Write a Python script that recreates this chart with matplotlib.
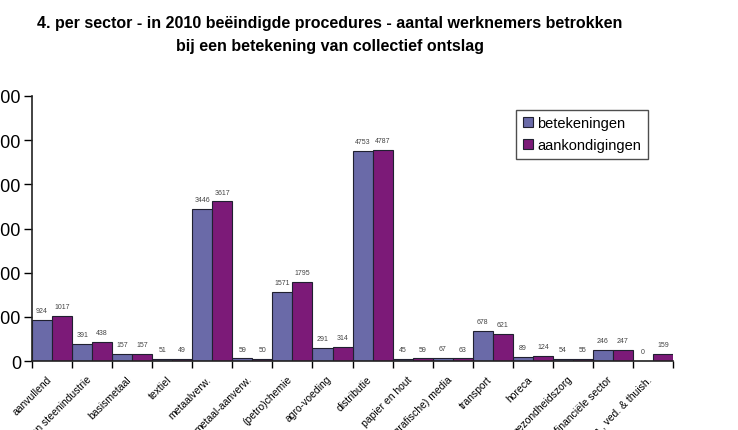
import matplotlib
matplotlib.use("Agg")
import matplotlib.pyplot as plt
import matplotlib.transforms as mtransforms
import numpy as np

plt.rcParams['font.family'] = ['Liberation Sans', 'DejaVu Sans']

categories = ["aanvullend", "glas- en steenindustrie", "basismetaal", "textiel",
              "metaalverw.", "metaal-aanverw.", "(petro)chemie", "agro-voeding",
              "distributie", "papier en hout", "(grafische) media", "transport",
              "horeca", "gezondheidszorg", "financiële sector", "schoonm., ved. & thuish."]
betekeningen = [924, 391, 157, 51, 3446, 59, 1571, 291, 4753, 45, 67, 678, 89, 54, 246, 0]
aankondigingen = [1017, 438, 157, 49, 3617, 50, 1795, 314, 4787, 59, 63, 621, 124, 55, 247, 159]
yticks = [0, 1000, 2000, 3000, 4000, 5000, 6000]
title = ("4. per sector - in 2010 beëindigde procedures - aantal werknemers betrokken\n"
         "bij een betekening van collectief ontslag")

c_blue = '#6a6aa8'
c_purple = '#7c1a78'

fig = plt.figure(figsize=(7.38, 4.31), dpi=100)
ax = fig.add_axes([0.0434, 0.160, 0.8686, 0.615])

x = np.arange(len(categories))
w = 0.5
b1 = ax.bar(x - w/2, betekeningen, w, color=c_blue, edgecolor='#202030', linewidth=0.8, label='betekeningen')
b2 = ax.bar(x + w/2, aankondigingen, w, color=c_purple, edgecolor='#202030', linewidth=0.8, label='aankondigingen')

for bars, vals in ((b1, betekeningen), (b2, aankondigingen)):
    for r, v in zip(bars, vals):
        ax.text(r.get_x() + r.get_width()/2, v + 130, str(v), ha='center', va='bottom',
                fontsize=5, color='#444444')

ax.set_xlim(-0.5, len(categories) - 0.5)
ax.set_ylim(0, 6000)
ax.set_yticks(yticks)
ax.set_yticklabels([str(t) for t in yticks], fontsize=13)
ax.tick_params(axis='y', length=6, width=1, pad=2)

ax.set_xticks(x)
ax.set_xticklabels(categories, rotation=45, ha='right', rotation_mode='anchor', fontsize=7.5)
ax.tick_params(axis='x', which='major', length=0, pad=9)
offset = mtransforms.ScaledTranslation(-6/100, 0, fig.dpi_scale_trans)
for lab in ax.get_xticklabels():
    lab.set_transform(lab.get_transform() + offset)
ax.set_xticks(np.arange(-0.5, len(categories)), minor=True)
ax.tick_params(axis='x', which='minor', length=5, width=1)

for s in ('top', 'right'):
    ax.spines[s].set_visible(False)
for s in ('left', 'bottom'):
    ax.spines[s].set_linewidth(1.2)
    ax.spines[s].set_color('#222222')

leg = ax.legend(loc='upper left', bbox_to_anchor=(0.744, 0.975), fontsize=10.5,
                frameon=True, fancybox=False, edgecolor='#222222', handlelength=0.7,
                handleheight=0.7, handletextpad=0.3, borderpad=0.45, labelspacing=0.55)
leg.get_frame().set_linewidth(1.0)

fig.text(0.447, 0.962, title, ha='center', va='top', fontsize=11.5, fontweight='bold',
         linespacing=1.6)

fig.savefig('out.png', dpi=100)
